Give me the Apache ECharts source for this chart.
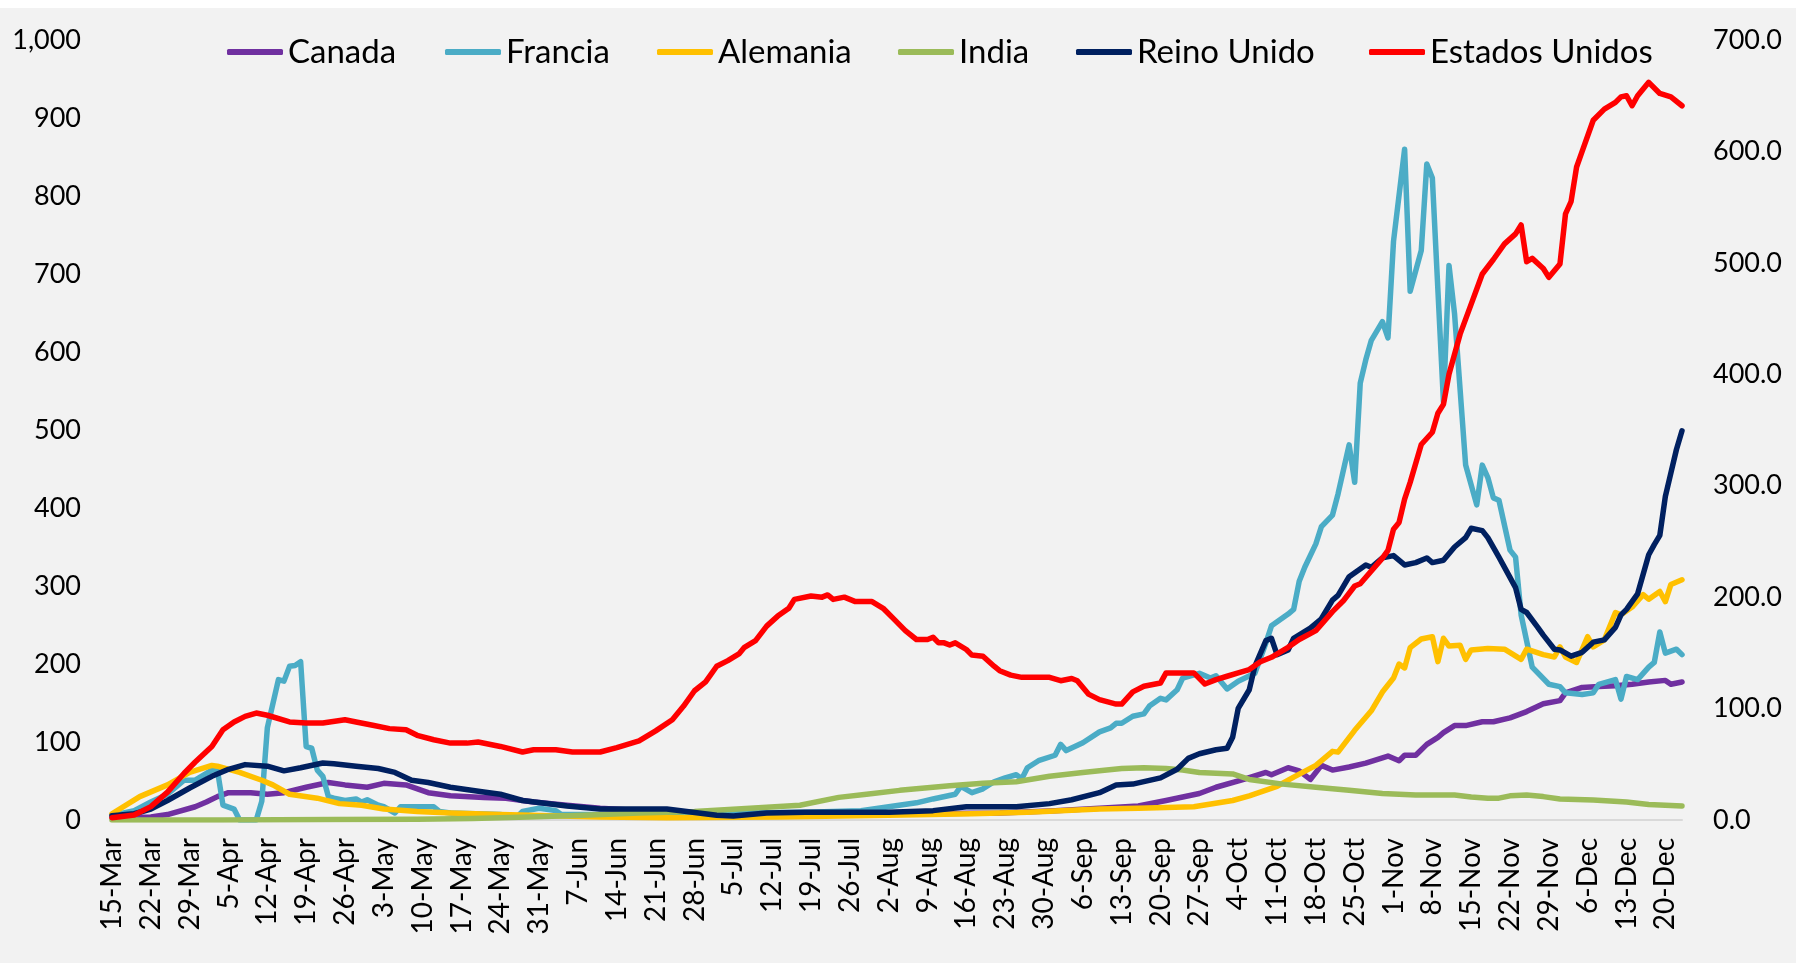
<!DOCTYPE html>
<html>
<head>
<meta charset="utf-8">
<script src="https://cdn.jsdelivr.net/npm/echarts@6/dist/echarts.min.js"></script>
<style>
  html, body { margin: 0; padding: 0; background: #ffffff; }
  #chart { position: absolute; left: 0; top: 8px; width: 1796px; height: 955px; }
</style>
</head>
<body>
<div id="chart"></div>
<script>
// etiquetas del eje X (una cada 7 días desde el 15-Mar)
const dateLabels = ['15-Mar', '22-Mar', '29-Mar', '5-Apr', '12-Apr', '19-Apr', '26-Apr', '3-May', '10-May',
  '17-May', '24-May', '31-May', '7-Jun', '14-Jun', '21-Jun', '28-Jun', '5-Jul', '12-Jul', '19-Jul', '26-Jul',
  '2-Aug', '9-Aug', '16-Aug', '23-Aug', '30-Aug', '6-Sep', '13-Sep', '20-Sep', '27-Sep', '4-Oct', '11-Oct',
  '18-Oct', '25-Oct', '1-Nov', '8-Nov', '15-Nov', '22-Nov', '29-Nov', '6-Dec', '13-Dec', '20-Dec'];
const lastDay = 283;

const seriesNames = ['Canada', 'Francia', 'Alemania', 'India', 'Reino Unido', 'Estados Unidos'];

// [día desde 15-Mar, valor]
const canada = [[0,3],[7,4],[10,7],[15,17],[17,23],[19,30],[21,35],[25,35],[28,33],[31,35],[35,42],[39,48],[42,45],[46,42],[49,47],[53,45],[57,35],[61,31],[67,29],[71,28],[76,23],[82,19],[88,15],[100,10],[115,8],[130,9],[145,8],[160,9],[170,12],[178,15],[185,18],[190,25],[196,34],[199,42],[204,52],[208,61],[209,58],[212,67],[214,63],[216,52],[218,70],[220,64],[223,68],[226,73],[230,82],[232,76],[233,83],[235,83],[237,97],[239,106],[240,112],[242,121],[244,121],[247,126],[249,126],[252,131],[255,139],[258,149],[261,153],[262,163],[265,170],[268,171],[271,172],[274,174],[277,177],[280,179],[281,174],[283,177]];

const francia = [[0,6],[4,12],[7,23],[10,33],[13,51],[15,51],[18,64],[19,64],[20,19],[22,14],[23,0],[26,0],[27,24],[28,118],[30,180],[31,178],[32,197],[33,198],[34,203],[35,94],[36,92],[37,64],[38,56],[39,30],[40,28],[42,25],[44,27],[45,23],[46,26],[48,19],[49,17],[51,9],[52,17],[58,17],[59,11],[61,9],[70,7],[73,4],[74,11],[77,15],[80,12],[81,7],[88,7],[100,5],[110,9],[125,10],[135,12],[140,17],[145,22],[148,27],[152,33],[153,43],[155,35],[157,40],[159,49],[161,54],[163,58],[164,53],[165,67],[167,76],[170,83],[171,97],[172,89],[175,99],[178,113],[180,118],[181,124],[182,124],[184,133],[186,136],[187,146],[189,156],[190,154],[192,167],[193,182],[196,188],[198,182],[199,185],[201,168],[203,178],[206,188],[208,227],[209,249],[212,264],[213,270],[214,306],[215,324],[217,354],[218,376],[220,391],[221,418],[223,481],[224,433],[225,560],[226,590],[227,615],[229,639],[230,618],[231,742],[233,860],[234,678],[236,730],[237,841],[238,823],[240,536],[241,711],[242,649],[244,455],[246,404],[247,455],[248,439],[249,413],[250,410],[252,346],[253,337],[254,263],[256,196],[259,174],[261,171],[262,163],[265,161],[267,163],[268,174],[271,180],[272,155],[273,184],[275,180],[277,196],[278,202],[279,241],[280,214],[282,219],[283,212]];

const alemania = [[0,8],[5,30],[10,45],[14,61],[18,70],[19,69],[23,61],[27,51],[29,45],[32,33],[37,28],[41,21],[45,19],[49,14],[55,11],[61,9],[70,7],[88,4],[100,3],[120,4],[140,6],[155,8],[165,10],[178,14],[185,15],[195,17],[202,25],[205,31],[210,43],[213,55],[217,70],[220,88],[221,87],[224,115],[227,140],[229,164],[231,182],[232,200],[233,195],[234,221],[236,232],[238,235],[239,203],[240,233],[241,223],[243,224],[244,206],[245,218],[248,220],[251,219],[254,206],[255,219],[258,212],[260,209],[261,222],[262,209],[264,202],[266,235],[267,222],[269,231],[271,266],[272,263],[274,273],[276,289],[277,283],[279,293],[280,280],[281,302],[283,308]];

const india = [[0,0],[20,0],[40,0.5],[55,1],[65,2],[75,4],[85,6],[95,9],[105,11],[115,15],[124,19],[131,29],[136,33],[142,38],[151,44],[157,47],[163,49],[169,56],[175,61],[178,63],[182,66],[186,67],[190,66],[193,64],[196,61],[202,59],[205,52],[211,46],[217,42],[223,38],[229,34],[235,32],[242,32],[245,29.5],[248,28],[250,28],[252,31],[255,32],[258,30],[261,27],[267,25.5],[273,23],[277,20],[283,18]];

const reinoUnido = [[0,5.5],[4,8],[7,14],[10,25],[14,41],[18,56],[21,65],[24,71],[28,69],[31,63],[34,67],[38,73],[40,72],[44,69],[48,66],[51,61],[54,51],[57,48],[61,42],[67,36],[70,33],[74,25],[82,18],[88,14],[95,14],[100,14],[109,6],[112,5],[118,9],[125,10],[140,10],[148,12],[154,17],[163,17],[169,21],[173,26],[178,35],[181,45],[184,46],[189,54],[192,65],[194,79],[196,85],[199,90],[201,92],[202,106],[203,143],[205,167],[206,197],[208,230],[209,233],[210,212],[212,218],[213,233],[216,246],[218,258],[220,282],[221,288],[223,312],[226,327],[227,324],[229,336],[231,339],[233,327],[235,330],[237,336],[238,330],[240,333],[242,350],[244,362],[245,374],[247,371],[248,362],[250,337],[253,298],[254,270],[255,266],[257,247],[258,237],[260,219],[261,218],[263,210],[265,215],[267,228],[269,231],[271,247],[272,263],[273,270],[275,290],[277,340],[278,353],[279,365],[280,415],[281,445],[282,475],[283,499]];

// eje derecho
const estadosUnidos = [[0,2],[4,4.5],[7,12],[10,25],[13,42],[15,52],[18,66],[20,81],[22,88],[24,93],[26,96],[28,94],[32,88],[35,87],[38,87],[42,90],[44,88],[47,85],[50,82],[53,81],[55,76],[58,72],[61,69],[64,69],[66,70],[70,66],[74,61],[76,63],[80,63],[83,61],[88,61],[91,65],[95,71],[98,80],[101,90],[103,102],[105,116],[107,124],[109,138],[111,143],[113,149],[114,155],[116,161],[118,174],[120,183],[122,190],[123,198],[126,201],[128,200],[129,202],[130,198],[132,200],[134,196],[137,196],[139,190],[141,180],[143,170],[145,162],[147,162],[148,164],[149,159],[150,159],[151,157],[152,159],[154,153],[155,148],[157,147],[159,138],[160,134],[162,130],[164,128],[166,128],[169,128],[171,125],[173,127],[174,125],[176,113],[178,108],[181,104],[182,104],[184,115],[186,120],[189,123],[190,132],[195,132],[197,122],[199,126],[201,129],[203,132],[205,135],[207,142],[209,146],[212,155],[214,162],[217,170],[220,187],[222,197],[224,210],[225,212],[229,235],[230,242],[231,261],[232,267],[233,288],[234,303],[236,337],[238,348],[239,365],[240,373],[241,400],[243,436],[245,463],[247,490],[249,503],[251,517],[253,526],[254,534],[255,501],[256,504],[258,495],[259,487],[261,499],[262,544],[263,555],[264,586],[265,600],[267,628],[269,638],[271,644],[272,649],[273,650],[274,641],[275,650],[276,656],[277,662],[279,652],[281,649],[283,641]];

const seriesData = [canada, francia, alemania, india, reinoUnido, estadosUnidos];
const colors = ['#7030a0', '#4bacc6', '#ffc000', '#9bbb59', '#002060', '#ff0000'];

const font = 'Lato, "Open Sans", sans-serif';
const legendLeft = [227, 445, 657, 898, 1076, 1369];

const chart = echarts.init(document.getElementById('chart'));

chart.setOption({
  animation: false,
  backgroundColor: '#f2f2f2',
  color: colors,
  textStyle: { fontFamily: font, color: '#000' },
  legend: seriesNames.map((name, i) => ({
    data: [name],
    left: legendLeft[i],
    top: 27,
    padding: 0,
    icon: 'roundRect',
    itemWidth: 56,
    itemHeight: 6,
    textStyle: { fontSize: 33, fontFamily: font, color: '#000', lineHeight: 34 },
  })),
  grid: { left: 112, right: 114, top: 32, bottom: 143 },
  xAxis: {
    type: 'value',
    min: 0,
    max: lastDay,
    interval: 7,
    axisLine: { show: true, lineStyle: { color: '#d9d9d9', width: 2 } },
    axisTick: { show: false },
    splitLine: { show: false },
    axisLabel: {
      rotate: 90,
      margin: 18,
      fontSize: 28,
      fontFamily: font,
      color: '#000',
      formatter: (v) => (v % 7 === 0 ? dateLabels[v / 7] || '' : ''),
    },
  },
  yAxis: [
    {
      type: 'value',
      min: 0,
      max: 1000,
      interval: 100,
      axisLine: { show: false },
      axisTick: { show: false },
      splitLine: { show: false },
      axisLabel: {
        margin: 31,
        fontSize: 27,
        fontFamily: font,
        color: '#000',
        formatter: (v) => v.toLocaleString('en-US'),
      },
    },
    {
      type: 'value',
      min: 0,
      max: 700,
      interval: 100,
      position: 'right',
      axisLine: { show: false },
      axisTick: { show: false },
      splitLine: { show: false },
      axisLabel: {
        margin: 31,
        fontSize: 27,
        fontFamily: font,
        color: '#000',
        formatter: (v) => v.toFixed(1),
      },
    },
  ],
  series: seriesNames.map((name, i) => ({
    name: name,
    type: 'line',
    yAxisIndex: i === 5 ? 1 : 0,
    data: seriesData[i],
    symbol: 'none',
    lineStyle: { width: 5.5, color: colors[i], join: 'round', cap: 'round' },
    itemStyle: { color: colors[i] },
  })),
});
</script>
</body>
</html>
